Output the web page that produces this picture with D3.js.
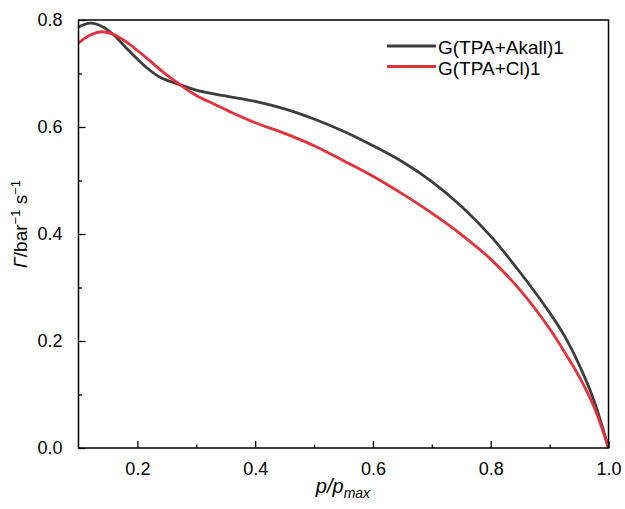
<!DOCTYPE html>
<meta charset="utf-8">
<style>
	body { margin: 0; background: #fff; }
	text { font-family: "Liberation Sans", Arial, sans-serif; }
	.axis path { display: none; }
	.axis line { stroke: #000; stroke-width: 1.3; }
	.axis text { font-size: 18px; fill: #000; }
	.line { fill: none; stroke-width: 2.8; }
</style>
<svg width="625" height="509"></svg>
<script src="https://cdn.jsdelivr.net/npm/d3@7"></script>
<script>

// p/pmax values
var pRatio = [0.1, 0.12, 0.14, 0.16, 0.18, 0.2, 0.22, 0.24, 0.27, 0.3, 0.33, 0.36, 0.4, 0.45, 0.5,
	0.55, 0.6, 0.65, 0.7, 0.75, 0.8, 0.85, 0.9, 0.925, 0.95, 0.975, 1.0];

var akall = [0.787, 0.794, 0.788, 0.772, 0.749, 0.727, 0.707, 0.692, 0.680, 0.669, 0.662, 0.656, 0.648,
	0.634, 0.615, 0.592, 0.565, 0.535, 0.498, 0.452, 0.396, 0.328, 0.253, 0.210, 0.156, 0.090, 0.0];

var cl = [0.757, 0.772, 0.778, 0.773, 0.760, 0.743, 0.725, 0.706, 0.681, 0.659, 0.643, 0.627, 0.608,
	0.588, 0.565, 0.537, 0.508, 0.475, 0.439, 0.399, 0.353, 0.295, 0.223, 0.180, 0.134, 0.078, 0.0];

var seriesNames = ["G(TPA+Akall)1", "G(TPA+Cl)1"];
var seriesColors = ["#3d3d3d", "#e8303a"];

var xMajor = [0.2, 0.4, 0.6, 0.8, 1.0];
var xMinor = [0.3, 0.5, 0.7, 0.9];
var yMajor = [0.0, 0.2, 0.4, 0.6, 0.8];
var yMinor = [0.1, 0.3, 0.5, 0.7];

var margin = { top: 20, right: 16.5, bottom: 61, left: 78.5 };
var width = 625, height = 509;
var innerWidth = width - margin.left - margin.right;
var innerHeight = height - margin.top - margin.bottom;

var svg = d3.select("svg")
	.append("g")
	.attr("transform", "translate(" + margin.left + "," + margin.top + ")");

var x = d3.scaleLinear().domain([0.1, 1.0]).range([0, innerWidth]);
var y = d3.scaleLinear().domain([0, 0.8]).range([innerHeight, 0]);

// minor ticks
svg.append("g")
	.attr("class", "axis")
	.attr("transform", "translate(0," + innerHeight + ")")
	.call(d3.axisBottom(x).tickValues(xMinor).tickSize(-3.5))
	.selectAll("text").remove();
svg.append("g")
	.attr("class", "axis")
	.call(d3.axisLeft(y).tickValues(yMinor).tickSize(-3.5))
	.selectAll("text").remove();

// major ticks
svg.append("g")
	.attr("class", "axis")
	.attr("transform", "translate(0," + innerHeight + ")")
	.call(d3.axisBottom(x).tickValues(xMajor).tickSize(-7).tickPadding(14).tickFormat(d3.format(".1f")));
svg.append("g")
	.attr("class", "axis")
	.call(d3.axisLeft(y).tickValues(yMajor).tickSize(-7).tickPadding(16).tickFormat(d3.format(".1f")));

var line = d3.line()
	.x(function(d){ return x(d[0]); })
	.y(function(d){ return y(d[1]); })
	.curve(d3.curveCatmullRom.alpha(0.5));

var series = [akall, cl];

svg.selectAll(".line")
	.data(series)
	.join("path")
	.classed("line", true)
	.attr("stroke", function(d, i){ return seriesColors[i]; })
	.attr("d", function(d){
		return line(pRatio.map(function(p, j){ return [p, d[j]]; }));
	});

// frame
svg.append("rect")
	.attr("width", innerWidth)
	.attr("height", innerHeight)
	.attr("fill", "none")
	.attr("stroke", "#000")
	.attr("stroke-width", 1.5);

// legend
var legend = svg.append("g")
	.attr("transform", "translate(" + (387 - margin.left) + "," + (46 - margin.top) + ")");

legend.selectAll("g")
	.data(seriesNames)
	.join("g")
	.attr("transform", function(d, i){ return "translate(0," + (i * 20.5) + ")"; })
	.each(function(d, i){
		var g = d3.select(this);
		g.append("line")
			.attr("x1", 0).attr("x2", 49)
			.attr("stroke", seriesColors[i])
			.attr("stroke-width", 2.8);
		g.append("text")
			.attr("x", 51)
			.attr("y", 8)
			.attr("font-size", 19)
			.text(d);
	});

// axis titles
var yTitle = svg.append("text")
	.attr("transform", "translate(" + (27 - margin.left) + "," + (224 - margin.top) + ") rotate(-90)")
	.attr("text-anchor", "middle")
	.attr("font-size", 19);
yTitle.append("tspan").attr("font-style", "italic").text("Γ");
yTitle.append("tspan").text("/bar");
yTitle.append("tspan").attr("font-size", 13).attr("dy", -7).text("−1");
yTitle.append("tspan").attr("dy", 7).text(" s");
yTitle.append("tspan").attr("font-size", 13).attr("dy", -7).text("−1");

var xTitle = svg.append("text")
	.attr("x", 343 - margin.left)
	.attr("y", 493 - margin.top)
	.attr("text-anchor", "middle")
	.attr("font-size", 20)
	.attr("font-style", "italic");
xTitle.append("tspan").text("p/p");
xTitle.append("tspan").attr("font-size", 14).attr("dy", 5).text("max");

</script>
